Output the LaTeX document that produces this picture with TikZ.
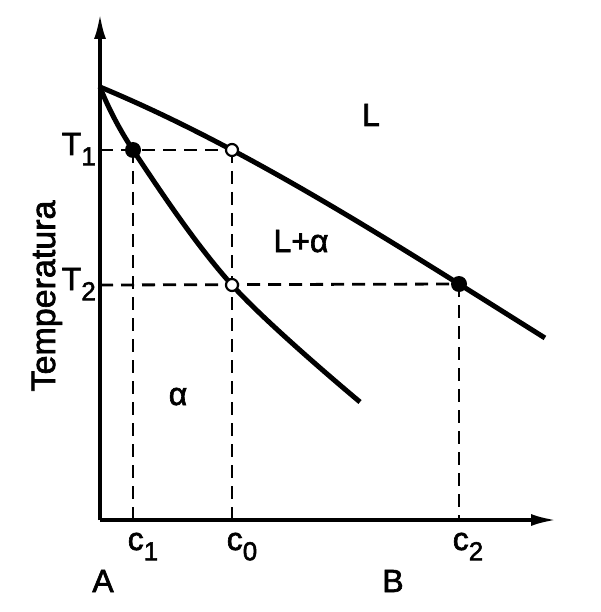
\documentclass[tikz,border=0pt]{standalone}
\usepackage{fontspec}
\setmainfont{Liberation Sans}
\newfontfamily\lblfont{Liberation Sans}[FakeBold=2]
\usetikzlibrary{arrows.meta}

\newcommand\sub[1]{\raisebox{-0.32em}{\fontsize{26}{30}\selectfont #1}}

\begin{document}
\begin{tikzpicture}[x=1pt,y=-1pt,
    lbl/.style={font=\lblfont\fontsize{32}{38}\selectfont, inner sep=0pt, anchor=base},
    curve/.style={line width=5pt},
    guide/.style={line width=2.8pt, dash pattern=on 13pt off 8pt},
    axis/.style={line width=3.3pt, -{Latex[length=25pt,width=12pt]}}]

  \useasboundingbox (0,0) rectangle (600,612);

  \coordinate (orig) at (100,520);
  \coordinate (up) at (100,14);
  \coordinate (right) at (556,520);

  \coordinate (melt) at (100,87);

  \coordinate (s1) at (133,150); % solidus at T1
  \coordinate (l1) at (232,150); % liquidus at T1
  \coordinate (s2) at (232,285); % solidus at T2
  \coordinate (l2) at (459,284); % liquidus at T2

  \coordinate (t1) at (100,150);
  \coordinate (t2) at (100,285);

  % dashed guides
  \draw[guide] (t1) -- (l1);
  \draw[guide] (t2) -- (l2);
  \draw[guide] (s1) -- (s1 |- orig);
  \draw[guide] (l1) -- (l1 |- orig);
  \draw[guide] (l2) -- (l2 |- orig);

  % liquidus (cubic through l1 and l2, v = (x-100)/100)
  \draw[curve] plot[domain=0:4.45, samples=60]
    ({100+100*\x}, {87 + 41.495*\x + 5.2996*\x*\x - 0.4380*\x*\x*\x});
  % solidus
  \draw[curve] plot[smooth,tension=0.6] coordinates {(melt) (s1) (s2) (360,402)};

  \draw[axis] (orig) -- (up);
  \draw[axis] (orig) -- (right);

  \fill (s1) circle (8pt);
  \fill (l2) circle (8pt);
  \draw[line width=2.2pt,fill=white] (l1) circle (6pt);
  \draw[line width=2.2pt,fill=white] (s2) circle (6pt);

  \node[lbl, anchor=base east] (T1) at (96,155) {T\sub{1}};
  \node[lbl, anchor=base east] (T2) at (96,290) {T\sub{2}};

  \node[lbl] (c1) at (143,550) {c\sub{1}};
  \node[lbl] (c0) at (242,550) {c\sub{0}};
  \node[lbl] (c2) at (468,550) {c\sub{2}};

  \node[lbl] (A) at (103,592) {A};
  \node[lbl] (B) at (393,592) {B};

  \node[lbl] (liq) at (371,126) {L};
  \node[lbl] (mix) at (301,252) {L+α};
  \node[lbl] (sol) at (178,405) {α};

  \node[lbl, rotate=90, font=\lblfont\fontsize{34}{40}\selectfont] (temp) at (55,296) {Temperatura};

\end{tikzpicture}
\end{document}
